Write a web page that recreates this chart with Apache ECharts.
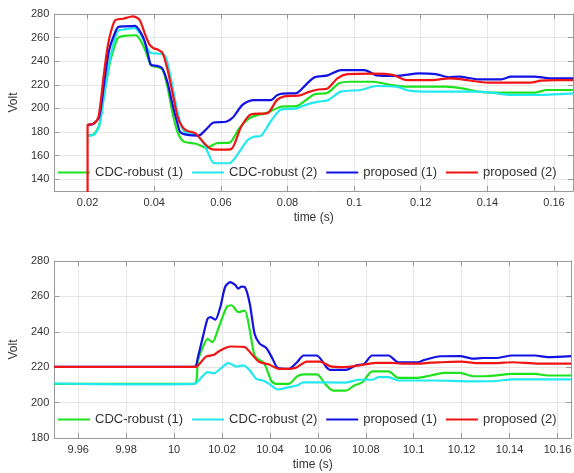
<!DOCTYPE html>
<html>
<head>
<meta charset="utf-8">
<script src="https://cdn.jsdelivr.net/npm/echarts@6/dist/echarts.min.js"></script>
<style>
html,body{margin:0;padding:0;background:#fff;}
#c{width:574px;height:473px;}
</style>
</head>
<body>
<div id="c"></div>
<script>
// ---------- tick labels ----------
const xTicksTop = [0.02, 0.04, 0.06, 0.08, 0.10, 0.12, 0.14, 0.16];
const yTicksTop = [140, 160, 180, 200, 220, 240, 260, 280];
const xTicksBot = [9.96, 9.98, 10.00, 10.02, 10.04, 10.06, 10.08, 10.10, 10.12, 10.14, 10.16];
const yTicksBot = [180, 200, 220, 240, 260, 280];

const seriesNames = ['CDC-robust (1)', 'CDC-robust (2)', 'proposed (1)', 'proposed (2)'];
const seriesColors = ['#1ee21e', '#22e8f0', '#1212e4', '#f01414'];

// ---------- top panel (start-up) [time s, Volt] ----------
const topCDC1 = [[0.02,177],[0.0218,178],[0.0235,186],[0.025,212],[0.0268,240],[0.0285,256],[0.0292,260],[0.031,261.5],[0.0345,262],[0.0358,258],[0.0372,250],[0.0385,240],[0.0392,236],[0.041,235],[0.0425,233],[0.044,218],[0.0455,196],[0.047,180],[0.0488,172],[0.0526,170],[0.0557,166.5],[0.0587,170.5],[0.0626,171],[0.0655,183],[0.0685,191.6],[0.071,194.4],[0.0735,196],[0.076,199],[0.078,201.5],[0.0827,202],[0.086,208],[0.0881,212],[0.0921,213.3],[0.0955,221.3],[0.0989,222.6],[0.1058,222.6],[0.1107,220],[0.1166,218.4],[0.1275,218.4],[0.1324,217],[0.1373,214.2],[0.1412,213.3],[0.154,213.3],[0.158,215.6],[0.1658,215.6]];
const topCDC2 = [[0.02,177],[0.0218,177.5],[0.0235,185],[0.025,212],[0.0268,243],[0.0285,262],[0.0292,266],[0.031,267],[0.0342,268],[0.0356,264],[0.037,257],[0.0383,249],[0.039,247],[0.041,246.5],[0.0432,245],[0.0447,230],[0.0462,208],[0.0478,188],[0.0492,180],[0.0523,178],[0.0545,172],[0.0562,162],[0.0577,154],[0.06,153.5],[0.0625,153.5],[0.0655,163],[0.068,173],[0.0699,176],[0.0719,176.5],[0.0745,187],[0.0768,196],[0.078,199],[0.0827,200],[0.0855,203],[0.0893,205.7],[0.0921,207],[0.096,214.2],[0.1019,215.6],[0.1068,219],[0.1127,218.4],[0.1166,215],[0.1225,214.2],[0.1363,214.2],[0.1412,213.3],[0.1471,211.4],[0.154,211.4],[0.1658,212.8]];
const topProp1 = [[0.02,186],[0.0218,187],[0.0235,193],[0.025,222],[0.0265,250],[0.0285,266],[0.0292,269],[0.031,269.5],[0.0342,270],[0.0356,266],[0.037,258],[0.0383,244],[0.039,237],[0.041,236],[0.0424,234],[0.044,222],[0.0455,203],[0.047,187],[0.0478,180],[0.05,177.5],[0.0533,177],[0.0555,182],[0.0578,188],[0.0616,188.7],[0.0635,192],[0.0665,203],[0.0696,207],[0.075,207],[0.0768,211],[0.0784,212.5],[0.0827,213],[0.0855,220],[0.0881,226.3],[0.0921,228],[0.096,232.5],[0.1031,232.5],[0.1068,228],[0.1127,227.5],[0.1196,229.7],[0.1245,229],[0.1285,226.4],[0.1314,226.9],[0.1373,224.6],[0.1442,224.6],[0.1471,227],[0.154,227],[0.1589,225.5],[0.1658,225.5]];
const topProp2 = [[0.02,0],[0.02,186],[0.0206,186.3],[0.0218,187],[0.0233,193],[0.0248,227],[0.0262,255],[0.0282,274.5],[0.0307,276],[0.0336,278],[0.0356,275],[0.0371,264],[0.0386,254],[0.0398,251],[0.041,250],[0.0425,247],[0.044,233],[0.0455,213],[0.047,193],[0.0484,184.5],[0.0498,181],[0.0523,179],[0.0552,170],[0.0572,165.5],[0.06,165],[0.0631,165.5],[0.0661,184.5],[0.0691,195],[0.074,196],[0.0768,207],[0.0788,210],[0.0837,211],[0.0865,214],[0.0893,216],[0.0921,217],[0.095,225.5],[0.098,229],[0.1058,229.5],[0.1117,228.3],[0.1157,224],[0.1235,224],[0.1285,225.5],[0.1324,224.6],[0.1373,222.6],[0.1412,221.8],[0.153,221.8],[0.156,223.5],[0.1609,224],[0.1658,224]];

// ---------- bottom panel (disturbance at 10 s) [time s, Volt] ----------
const botCDC1 = [[9.95,210.6],[10.0085,210.6],[10.010,223.8],[10.012,231.3],[10.014,236],[10.016,234.2],[10.0187,242.7],[10.022,254],[10.024,255],[10.0268,251.2],[10.0295,252],[10.0316,240.8],[10.0336,226.6],[10.0357,224],[10.0375,222.5],[10.0395,216],[10.0405,212.5],[10.0425,210.6],[10.0479,210.6],[10.0513,214.8],[10.0541,215.9],[10.0595,215.9],[10.0636,209.7],[10.0663,206.8],[10.0718,206.8],[10.0752,209.7],[10.0786,211.5],[10.0827,217.6],[10.0895,217.6],[10.0935,214],[10.1017,214],[10.1071,215.3],[10.1125,216.8],[10.1193,216.8],[10.1248,214.9],[10.13,214.9],[10.1411,216.2],[10.1506,216.2],[10.156,215.3],[10.1657,215.3]];
const botCDC2 = [[9.95,210.8],[9.98,210.3],[10.0085,210.6],[10.0115,214.4],[10.014,217.2],[10.0167,216.6],[10.0193,219.1],[10.0227,222.3],[10.0261,220.4],[10.0289,221],[10.0316,218.2],[10.0343,213.4],[10.037,212.5],[10.0397,210.6],[10.0432,207.4],[10.0479,208.7],[10.0513,209.7],[10.0541,211.5],[10.0718,211.3],[10.0772,212.9],[10.0827,212.9],[10.0854,214.4],[10.0895,214.4],[10.0935,212.5],[10.1071,212.5],[10.1248,212],[10.1343,212.2],[10.1411,213.1],[10.1657,213.1]];
const botProp1 = [[9.95,220.2],[10.0085,220.2],[10.01,226],[10.012,237],[10.014,247.4],[10.0152,248.3],[10.0172,246.8],[10.0193,254],[10.0213,265.3],[10.0234,268.1],[10.0255,266.5],[10.0268,264.4],[10.0282,265.5],[10.0295,265.3],[10.0316,255.9],[10.0336,238.9],[10.0357,233.3],[10.0384,231],[10.0411,224.8],[10.0432,219.7],[10.0479,219.1],[10.0513,222.8],[10.0541,226.6],[10.0595,226.6],[10.0636,220],[10.065,218.5],[10.0718,218.5],[10.0759,221],[10.0793,221.8],[10.0827,226.6],[10.0895,226.6],[10.0935,222.8],[10.1017,222.8],[10.1044,224.1],[10.1112,226.2],[10.1193,226.3],[10.1248,224.8],[10.129,225.2],[10.1343,225.2],[10.1411,226.6],[10.1506,226.6],[10.156,225.7],[10.1657,226.3]];
const botProp2 = [[9.95,220.2],[10.0092,220.2],[10.011,222.5],[10.0133,226],[10.0167,227],[10.0187,229],[10.0207,230.4],[10.0234,231.7],[10.0289,231.5],[10.030,231],[10.0329,226.6],[10.0356,222.9],[10.0397,221.5],[10.0438,219],[10.0492,219.2],[10.0513,220],[10.0554,223.2],[10.0609,223.2],[10.065,220.6],[10.0704,220],[10.0772,221],[10.084,222.5],[10.0908,222.5],[10.0949,222],[10.1017,222],[10.1071,222.6],[10.1112,222.8],[10.12,223.2],[10.1262,222.3],[10.1343,222.3],[10.1411,222.8],[10.152,222],[10.1657,222]];

const topData = [topCDC1, topCDC2, topProp1, topProp2];
const botData = [botCDC1, botCDC2, botProp1, botProp2];

// ---------- styling ----------
const FONT = 'Liberation Sans';
const frameColor = '#9a9a9a';
const textColor = '#333333';
const fmt = v => String(parseFloat(Number(v).toFixed(2)));

function xAx(grid, min, max, ticks, pos, main) {
  return {
    type: 'value', gridIndex: grid, min: min, max: max, position: pos,
    axisLine: { show: true, onZero: false, lineStyle: { color: frameColor, width: 1 } },
    axisTick: { show: true, inside: true, length: 5, customValues: ticks, lineStyle: { color: frameColor } },
    axisLabel: main ? { show: true, customValues: ticks, formatter: fmt, margin: 6, color: textColor, fontSize: 11, fontFamily: FONT } : { show: false },
    splitLine: { show: main, lineStyle: { color: '#e6e6e6', width: 1 } },
    name: main ? 'time (s)' : '', nameLocation: 'middle', nameGap: 21,
    nameTextStyle: { color: textColor, fontSize: 12, fontFamily: FONT }
  };
}
function yAx(grid, min, max, ticks, pos, main) {
  return {
    type: 'value', gridIndex: grid, min: min, max: max, position: pos,
    axisLine: { show: true, onZero: false, lineStyle: { color: frameColor, width: 1 } },
    axisTick: { show: true, inside: true, length: 5, customValues: ticks, lineStyle: { color: frameColor } },
    axisLabel: main ? { show: true, customValues: ticks, margin: 5, color: textColor, fontSize: 11, fontFamily: FONT } : { show: false },
    splitLine: { show: main, lineStyle: { color: '#e6e6e6', width: 1 } },
    name: main ? 'Volt' : '', nameLocation: 'middle', nameGap: 28,
    nameTextStyle: { color: textColor, fontSize: 12, fontFamily: FONT }
  };
}

const series = [];
[topData, botData].forEach((set, gi) => {
  set.forEach((d, i) => {
    series.push({
      name: seriesNames[i], type: 'line', data: d,
      xAxisIndex: gi * 2, yAxisIndex: gi * 2,
      showSymbol: false, symbol: 'none', smooth: 0.25,
      lineStyle: { color: seriesColors[i], width: 2.2 },
      itemStyle: { color: seriesColors[i] },
      clip: true, z: 3 + i
    });
  });
});

function legendAt(top) {
  return {
    left: 58, top: top, padding: 0, itemGap: 9, itemWidth: 32, itemHeight: 2,
    icon: 'rect', selectedMode: false, data: seriesNames,
    textStyle: { color: textColor, fontSize: 13, fontFamily: FONT }
  };
}

const chart = echarts.init(document.getElementById('c'), null, { renderer: 'canvas' });
chart.setOption({
  animation: false,
  backgroundColor: '#ffffff',
  grid: [
    { left: 45, top: 14, width: 528, height: 177, containLabel: false },
    { left: 45, top: 261, width: 528, height: 177, containLabel: false }
  ],
  xAxis: [
    xAx(0, 0.01, 0.1657, xTicksTop, 'bottom', true),
    xAx(0, 0.01, 0.1657, xTicksTop, 'top', false),
    xAx(1, 9.95, 10.1657, xTicksBot, 'bottom', true),
    xAx(1, 9.95, 10.1657, xTicksBot, 'top', false)
  ],
  yAxis: [
    yAx(0, 130, 280, yTicksTop, 'left', true),
    yAx(0, 130, 280, yTicksTop, 'right', false),
    yAx(1, 180, 280, yTicksBot, 'left', true),
    yAx(1, 180, 280, yTicksBot, 'right', false)
  ],
  legend: [legendAt(166), legendAt(413)],
  series: series
});
</script>
</body>
</html>
